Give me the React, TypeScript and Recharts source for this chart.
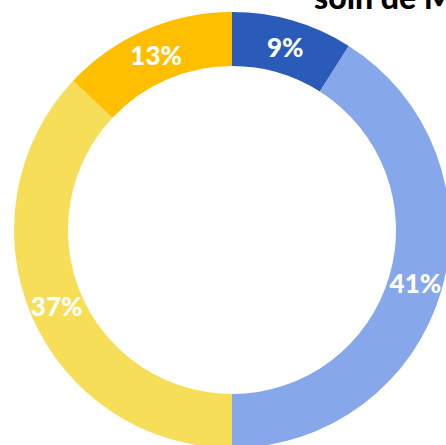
import { PieChart, Pie, Cell } from "recharts";

const categories = ["A", "B", "C", "D"];
const values = [9, 41, 37, 13];
const colors = ["#2A5BB9", "#86A7E9", "#F7DE58", "#FEBF00"];

const data = categories.map((name, i) => ({ name, value: values[i] }));

const RADIAN = Math.PI / 180;

function renderLabel(props: any) {
  const { cx, cy, midAngle, innerRadius, outerRadius, value } = props;
  const r = (innerRadius + outerRadius) / 2;
  const x = cx + r * Math.cos(-midAngle * RADIAN);
  const y = cy + r * Math.sin(-midAngle * RADIAN);
  return (
    <text
      x={x}
      y={y}
      fill="#fff"
      textAnchor="middle"
      dominantBaseline="central"
      fontFamily="Lato, sans-serif"
      fontWeight={900}
      fontSize={26}
    >
      {value}%
    </text>
  );
}

export default function App() {
  return (
    <div
      style={{
        position: "fixed",
        left: 0,
        top: 0,
        width: 446,
        height: 445,
        overflow: "hidden",
        background: "#fff",
      }}
    >
      <PieChart
        width={446}
        height={445}
        margin={{ top: 0, right: 0, bottom: 0, left: 0 }}
      >
        <Pie
          data={data}
          dataKey="value"
          cx={232}
          cy={230}
          innerRadius={164}
          outerRadius={218}
          startAngle={90}
          endAngle={-270}
          stroke="none"
          label={renderLabel}
          labelLine={false}
          isAnimationActive={false}
        >
          {data.map((d, i) => (
            <Cell key={d.name} fill={colors[i]} />
          ))}
        </Pie>
      </PieChart>
      <div
        style={{
          position: "absolute",
          left: 314,
          top: -19,
          fontFamily: "Lato, sans-serif",
          fontWeight: 900,
          fontSize: 32,
          lineHeight: "32px",
          whiteSpace: "nowrap",
          color: "#000",
        }}
      >
        soin de Mode
      </div>
    </div>
  );
}
